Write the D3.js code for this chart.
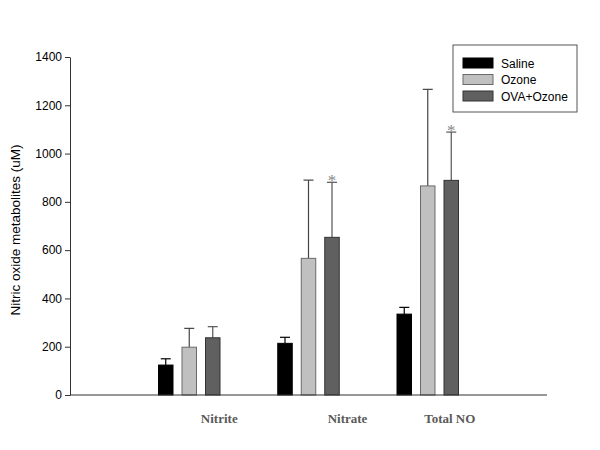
<!DOCTYPE html>
<html>
<head>
<meta charset="utf-8">
<script src="https://cdn.jsdelivr.net/npm/d3@7"></script>
<style>
  body { margin: 0; background: #fff; }
  svg { display: block; }
</style>
</head>
<body>
<div id="chart"></div>
<script>

// data
var categories = ["Nitrite", "Nitrate", "Total NO"];
var series = ["Saline", "Ozone", "OVA+Ozone"];
var saline = [124, 214, 335];
var salineErr = [26, 25, 28];
var ozone = [198, 566, 866];
var ozoneErr = [78, 324, 400];
var ovaOzone = [237, 653, 889];
var ovaOzoneErr = [46, 228, 200];
var starred = [[], [], ["Nitrate", "Total NO"]];
var yTicks = [0, 200, 400, 600, 800, 1000, 1200, 1400];

var fills = ["#000000", "#c0c0c0", "#606060"];
var strokes = ["#000000", "#6a6a6a", "#333333"];
var errColors = ["#000000", "#444444", "#555555"];
// the category labels sit a bit off the group centres in the original
var labelShift = [30, 39, 22];

var W = 600, H = 450;
var margin = {left: 70, right: 53, top: 57, bottom: 55};

var svg = d3.select("#chart").append("svg")
  .attr("width", W)
  .attr("height", H);

var x = d3.scaleLinear().domain([0, categories.length + 1]).range([margin.left, W - margin.right]);
var y = d3.scaleLinear().domain([0, 1400]).range([H - margin.bottom, margin.top]);
var xSub = d3.scaleBand().domain(series).range([-30.75, 30.75]).paddingInner(0.383).paddingOuter(0);

var values = [saline, ozone, ovaOzone];
var errs = [salineErr, ozoneErr, ovaOzoneErr];

var bars = [];
series.forEach(function(s, si) {
  categories.forEach(function(c, ci) {
    bars.push({series: s, si: si, cat: c, ci: ci, value: values[si][ci], err: errs[si][ci],
               star: starred[si].indexOf(c) >= 0});
  });
});

function barMid(d) { return x(d.ci + 1) + xSub(d.series) + xSub.bandwidth() / 2; }

// y axis
var yAxis = d3.axisLeft(y).tickValues(yTicks).tickFormat(d3.format("d"))
  .tickSize(5).tickSizeOuter(0).tickPadding(3);
var gy = svg.append("g")
  .attr("transform", "translate(" + margin.left + ",0)")
  .call(yAxis);
gy.selectAll("text").style("font-family", "Arial, 'Liberation Sans', sans-serif").style("font-size", "12px").attr("fill", "#000");
gy.selectAll("line").attr("stroke", "#333");
gy.select(".domain").attr("stroke", "#333");

// y label
svg.append("text")
  .attr("transform", "translate(20," + (y(700) + 4) + ") rotate(-90)")
  .style("text-anchor", "middle")
  .style("font-family", "Arial, 'Liberation Sans', sans-serif")
  .style("font-size", "13.5px")
  .text("Nitric oxide metabolites (uM)");

// error bars (drawn before the bars so the stem hides behind)
var eb = svg.append("g").selectAll("g.err")
  .data(bars)
  .enter().append("g")
    .attr("class", "err")
    .attr("stroke", function(d) { return errColors[d.si]; })
    .attr("stroke-width", 1.2);

eb.append("line")
  .attr("x1", barMid)
  .attr("x2", barMid)
  .attr("y1", function(d) { return y(d.value); })
  .attr("y2", function(d) { return y(d.value + d.err); });

eb.append("line")
  .attr("x1", function(d) { return barMid(d) - 5; })
  .attr("x2", function(d) { return barMid(d) + 5; })
  .attr("y1", function(d) { return y(d.value + d.err); })
  .attr("y2", function(d) { return y(d.value + d.err); });

// bars
svg.append("g").selectAll("rect")
  .data(bars)
  .enter().append("rect")
    .attr("x", function(d) { return x(d.ci + 1) + xSub(d.series); })
    .attr("y", function(d) { return y(d.value); })
    .attr("width", xSub.bandwidth())
    .attr("height", function(d) { return y(0) - y(d.value); })
    .attr("fill", function(d) { return fills[d.si]; })
    .attr("stroke", function(d) { return strokes[d.si]; })
    .attr("stroke-width", 1);

// asterisks
svg.append("g").selectAll("text")
  .data(bars.filter(function(d) { return d.star; }))
  .enter().append("text")
    .attr("x", barMid)
    .attr("y", function(d) { return y(d.value + d.err) + 4; })
    .style("text-anchor", "middle")
    .style("font-family", "'Liberation Serif', 'Times New Roman', serif")
    .style("font-size", "17px")
    .attr("fill", "#888")
    .text("*");

// x axis line
svg.append("line")
  .attr("x1", x.range()[0])
  .attr("x2", x.range()[1])
  .attr("y1", y(0))
  .attr("y2", y(0))
  .attr("stroke", "#333")
  .attr("stroke-width", 1.2);

// category labels
svg.append("g").selectAll("text")
  .data(categories)
  .enter().append("text")
    .attr("x", function(d, i) { return x(i + 1) + labelShift[i]; })
    .attr("y", y(0) + 28)
    .style("text-anchor", "middle")
    .style("font-family", "'Liberation Serif', 'Times New Roman', serif")
    .style("font-weight", "bold")
    .style("font-size", "13px")
    .attr("fill", "#5a5a5a")
    .text(function(d) { return d; });

// legend
var leg = svg.append("g").attr("transform", "translate(453,45)");
leg.append("rect")
  .attr("width", 124)
  .attr("height", 67)
  .attr("fill", "#fff")
  .attr("stroke", "#555");

var legRows = leg.selectAll("g.row")
  .data(series)
  .enter().append("g")
    .attr("class", "row")
    .attr("transform", function(d, i) { return "translate(10," + (13 + i * 16.5) + ")"; });

legRows.append("rect")
  .attr("width", 30)
  .attr("height", 10)
  .attr("fill", function(d, i) { return fills[i]; })
  .attr("stroke", function(d, i) { return strokes[i]; });

legRows.append("text")
  .attr("x", 38)
  .attr("y", 9.5)
  .style("font-family", "Arial, 'Liberation Sans', sans-serif")
  .style("font-size", "12px")
  .text(function(d) { return d; });

</script>
</body>
</html>
